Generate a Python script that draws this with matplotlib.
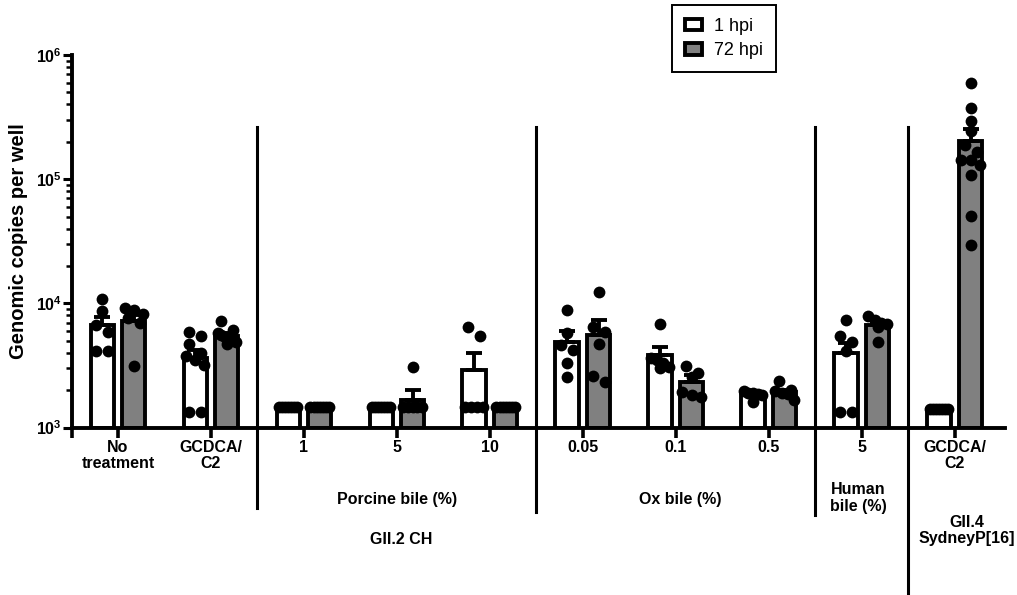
import matplotlib
matplotlib.use("Agg")
import matplotlib.pyplot as plt
import matplotlib.transforms as mtransforms
import numpy as np
from matplotlib.ticker import LogLocator, NullFormatter

plt.rcParams["font.family"] = ["Liberation Sans", "DejaVu Sans"]
plt.rcParams["mathtext.fontset"] = "custom"
plt.rcParams["mathtext.bf"] = "Liberation Sans:bold"
plt.rcParams["mathtext.rm"] = "Liberation Sans"

# values (genomic copies per well)
GROUPS = ["No\ntreatment", "GCDCA/\nC2", "1", "5", "10",
          "0.05", "0.1", "0.5", "5", "GCDCA/\nC2"]
SERIES = ["1 hpi", "72 hpi"]

MEAN_1HPI = [6650, 3600, 1450, 1450, 2920, 4850, 3850, 1850, 3980, 1420]
SEM_1HPI = [1180, 580, 0, 0, 1050, 1100, 640, 50, 800, 0]
MEAN_72HPI = [7150, 5500, 1450, 1680, 1450, 5600, 2320, 1920, 6650, 202000]
SEM_72HPI = [900, 250, 0, 330, 0, 1780, 330, 80, 400, 52000]

PTS_1HPI = [
    [10900, 8700, 6700, 5900, 4100, 4100],
    [5900, 5500, 4700, 4000, 3800, 3500, 3200, 1340, 1340],
    [1450, 1450, 1450, 1450, 1450, 1450, 1450],
    [1450, 1450, 1450, 1450, 1450, 1450, 1450],
    [6500, 5500, 1450, 1450, 1450, 1450],
    [8870, 5750, 4630, 4220, 3300, 2570],
    [6800, 3600, 3500, 3300, 3050, 3000],
    [1950, 1900, 1880, 1850, 1820, 1600],
    [7360, 5470, 4920, 4100, 1340, 1340],
    [1420, 1420, 1420, 1420, 1420, 1420, 1420],
]
PTS_72HPI = [
    [9150, 8870, 8180, 7600, 7000, 3150],
    [7200, 6100, 5800, 5600, 5400, 5200, 5100, 4900, 4700],
    [1450, 1450, 1450, 1450, 1450, 1450, 1450],
    [3090, 1450, 1450, 1450, 1450, 1450],
    [1450, 1450, 1450, 1450, 1450, 1450, 1450],
    [12300, 6500, 5930, 4710, 2620, 2340],
    [3150, 2770, 2570, 1940, 1830, 1770],
    [2370, 2000, 1980, 1900, 1850, 1680],
    [7930, 7300, 7000, 6800, 6500, 4900],
    [597000, 375000, 292000, 243000, 190000, 167000,
     144000, 144000, 131000, 109000, 50100, 29600],
]

# group boundaries (between category indices) and the bracket labels below the axis
SEPARATORS = [1.5, 4.5, 7.5, 8.5]
SECTION_LABELS = [
    ("Porcine bile (%)", 3.0, 0.161),
    ("Ox bile (%)", 6.05, 0.161),
    ("Human\nbile (%)", 7.96, 0.163),
    ("GII.2 CH", 3.05, 0.094),
    ("GII.4\nSydneyP[16]", 9.13, 0.108),
]

BAR_W = 0.25
OFFSET = 0.17
FILLS = ["white", "#808080"]


def swarm(vals, step=0.13, max_w=0.1, gap=0.075):
    """simple row-based scatter spread, like the prism dot plots"""
    vals = np.sort(np.asarray(vals, float))[::-1]
    logs = np.log10(vals)
    xs = np.zeros(len(vals))
    rows, cur = [], [0]
    for i in range(1, len(vals)):
        if logs[cur[0]] - logs[i] < gap:
            cur.append(i)
        else:
            rows.append(cur)
            cur = [i]
    rows.append(cur)
    for row in rows:
        k = len(row)
        if k > 1:
            w = min((k - 1) * step / 2, max_w)
            xs[row] = np.linspace(-w, w, k)
    return xs, vals


fig = plt.figure(figsize=(10.17, 5.95), dpi=100)
ax = fig.add_axes([0.0708, 0.2815, 0.9174, 0.626])
ax.set_yscale("log")
ax.set_ylim(1e3, 1e6)
ax.set_xlim(-0.495, 9.54)

x = np.arange(len(GROUPS))
handles = []
for k, (means, sems, pts) in enumerate([(MEAN_1HPI, SEM_1HPI, PTS_1HPI),
                                         (MEAN_72HPI, SEM_72HPI, PTS_72HPI)]):
    xs = x + (2 * k - 1) * OFFSET
    means = np.array(means, float)
    bars = ax.bar(xs, means - 1e3, bottom=1e3, width=BAR_W, color=FILLS[k],
                  edgecolor="black", linewidth=2.8, zorder=2, label=SERIES[k])
    handles.append(bars)
    ax.errorbar(xs, means, yerr=[np.zeros(len(means)), sems], fmt="none",
                ecolor="black", elinewidth=2.8, capsize=5.5, capthick=2.8,
                zorder=3)
    for xi, vals in zip(xs, pts):
        dx, v = swarm(vals)
        ax.plot(xi + dx, v, "o", color="black", ms=8.5, mew=0, zorder=4)

# axes styling
for side in ["top", "right"]:
    ax.spines[side].set_visible(False)
for side in ["left", "bottom"]:
    ax.spines[side].set_linewidth(2.8)

ax.set_yticks([1e3, 1e4, 1e5, 1e6],
              labels=[r"$\mathbf{10^{3}}$", r"$\mathbf{10^{4}}$",
                      r"$\mathbf{10^{5}}$", r"$\mathbf{10^{6}}$"])
ax.yaxis.set_minor_locator(LogLocator(base=10, subs=np.arange(2, 10)))
ax.yaxis.set_minor_formatter(NullFormatter())
ax.tick_params(axis="y", which="major", length=6.5, width=2.2, labelsize=11.5, pad=1)
ax.tick_params(axis="y", which="minor", length=4.2, width=1.8)

ax.set_xticks(np.concatenate([[-0.495], x]), labels=[""] + GROUPS,
              fontweight="bold", fontsize=11.5, linespacing=1.05)
ax.tick_params(axis="x", length=7, width=2.6, pad=2)

ax.set_ylabel("Genomic copies per well", fontsize=14.5, fontweight="bold")
ax.yaxis.set_label_coords(-0.047, 0.5)

# separators and section labels below the axis
tr = mtransforms.blended_transform_factory(ax.transData, fig.transFigure)
sep_bottom = [0.146, 0.14, 0.135, 0.0]
for sx, yb in zip(SEPARATORS, sep_bottom):
    ax.plot([sx, sx], [0.787, yb], color="black", lw=2.2, transform=tr,
            clip_on=False, zorder=1)
for txt, tx, ty in SECTION_LABELS:
    fig.text(tx, ty, txt, transform=tr, ha="center", va="center",
             fontsize=11.5, fontweight="bold", linespacing=1.1)

leg = fig.legend(handles=handles, loc="upper left",
                 bbox_to_anchor=(672 / 1017, 1 - 5 / 595), borderaxespad=0,
                 fancybox=False, edgecolor="black", framealpha=1,
                 fontsize=13, handlelength=0.95, handleheight=0.6,
                 handletextpad=0.7, labelspacing=0.42, borderpad=0.7)
leg.get_frame().set_linewidth(1.4)

fig.savefig("out.png", dpi=100)
